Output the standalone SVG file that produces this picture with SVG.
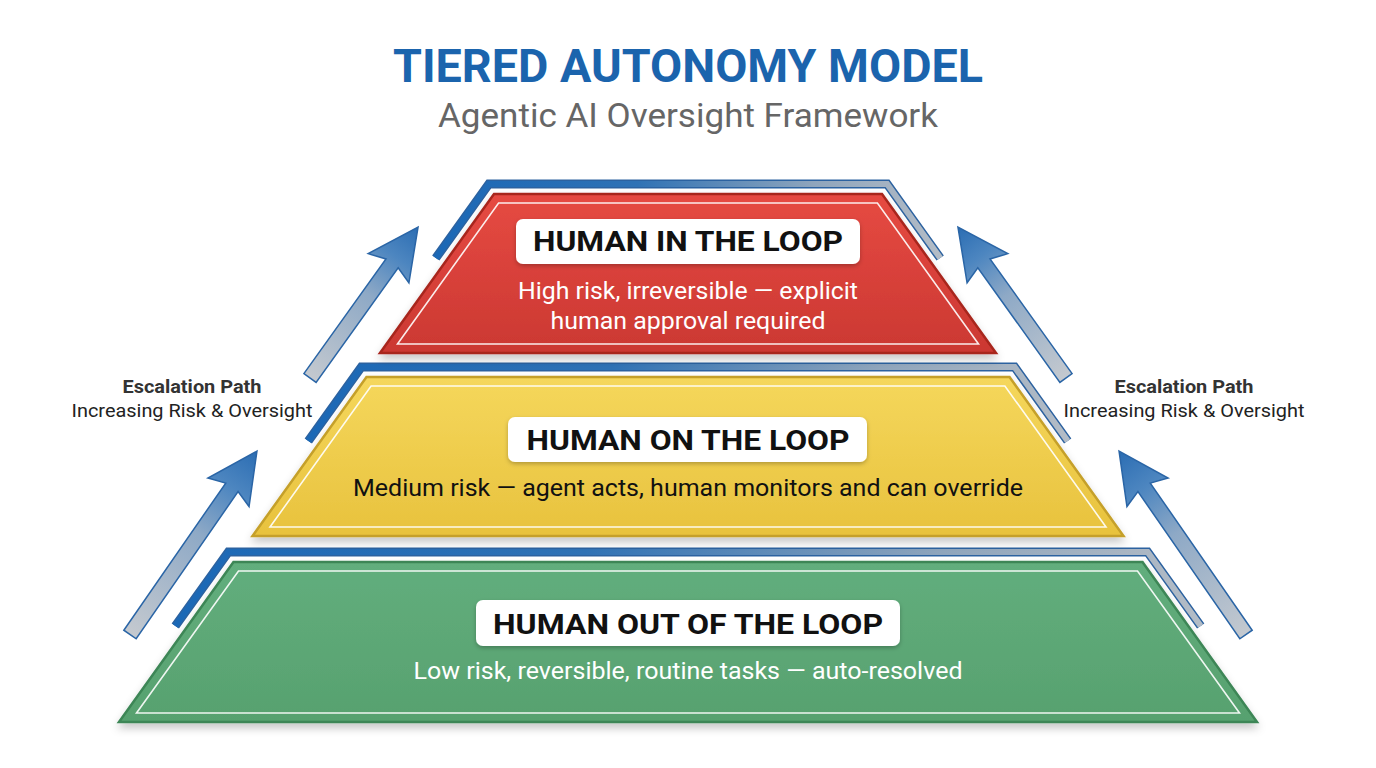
<svg xmlns="http://www.w3.org/2000/svg" width="1376" height="768" viewBox="0 0 1376 768">
<defs>
<style>
.title{font-family:Roboto,"Liberation Sans",sans-serif;font-weight:700;font-size:46px;fill:#1b64ad;text-anchor:middle}
.sub{font-family:Roboto,"Liberation Sans",sans-serif;font-size:33px;fill:#666;text-anchor:middle}
.lbl{font-family:Roboto,"Liberation Sans",sans-serif;font-weight:700;font-size:27px;fill:#111;text-anchor:middle}
.desc{font-family:Roboto,"Liberation Sans",sans-serif;font-size:23px;text-anchor:middle}
.esc1{font-family:Roboto,"Liberation Sans",sans-serif;font-weight:700;font-size:18.5px;fill:#333;text-anchor:middle}
.esc2{font-family:Roboto,"Liberation Sans",sans-serif;font-size:18px;fill:#222;text-anchor:middle}
.inner{fill:none;stroke:#fff;stroke-width:1.6;stroke-opacity:0.9}
.bandO{fill:none;stroke:#2c62a0;stroke-width:9;stroke-linejoin:miter}
.bandI{fill:none;stroke:url(#band);stroke-width:6;stroke-linejoin:miter}
.box{fill:#fff;filter:url(#sh2)}
.arrow{fill:url(#arr);stroke:#2a65a6;stroke-width:1.5;stroke-linejoin:miter}
</style>
<linearGradient id="red" x1="0" y1="0" x2="0" y2="1"><stop offset="0" stop-color="#e64a42"/><stop offset="1" stop-color="#cb3832"/></linearGradient>
<linearGradient id="yel" x1="0" y1="0" x2="0" y2="1"><stop offset="0" stop-color="#f5d75c"/><stop offset="1" stop-color="#e8c23d"/></linearGradient>
<linearGradient id="grn" x1="0" y1="0" x2="0" y2="1"><stop offset="0" stop-color="#62ae7d"/><stop offset="1" stop-color="#57a16f"/></linearGradient>
<linearGradient id="band" x1="0" y1="0" x2="1" y2="0"><stop offset="0" stop-color="#1b68b6"/><stop offset="0.4" stop-color="#2f72b5"/><stop offset="0.75" stop-color="#8fa5bc"/><stop offset="1" stop-color="#b3bcc6"/></linearGradient>
<linearGradient id="arr" x1="0" y1="0" x2="1" y2="0"><stop offset="0" stop-color="#c4c9cf"/><stop offset="0.55" stop-color="#8ea9c6"/><stop offset="0.8" stop-color="#4d86c0"/><stop offset="1" stop-color="#2b6db3"/></linearGradient>
<filter id="sh" x="-10%" y="-10%" width="120%" height="130%"><feDropShadow dx="0" dy="5" stdDeviation="4" flood-color="#000" flood-opacity="0.22"/></filter>
<filter id="sh2" x="-10%" y="-20%" width="120%" height="150%"><feDropShadow dx="0" dy="2" stdDeviation="2" flood-color="#000" flood-opacity="0.25"/></filter>
</defs>
<rect width="1376" height="768" fill="#fff"/>

<g id="title">
<text class="title" x="688" y="82" textLength="590" lengthAdjust="spacingAndGlyphs">TIERED AUTONOMY MODEL</text>
<text class="sub" x="688" y="127" textLength="500" lengthAdjust="spacingAndGlyphs">Agentic AI Oversight Framework</text>
</g>

<g id="tier-green">
<polyline class="bandO" points="175.3,626 228.4,552 1147.6,552 1200.7,626"/>
<polyline class="bandI" points="175.3,626 228.4,552 1147.6,552 1200.7,626"/>
<polygon points="233.5,562 1142.5,562 1257,722 119,722" fill="url(#grn)" stroke="#3d8656" stroke-width="2.5" filter="url(#sh)"/>
<polygon class="inner" points="238.5,571 1137.5,571 1239.5,713 136.5,713"/>
<rect class="box" x="476" y="600" width="424" height="46" rx="7"/>
<text class="lbl" x="688" y="634" textLength="390" lengthAdjust="spacingAndGlyphs">HUMAN OUT OF THE LOOP</text>
<text class="desc" x="688" y="679" fill="#fff" textLength="549" lengthAdjust="spacingAndGlyphs">Low risk, reversible, routine tasks — auto-resolved</text>
</g>

<g id="tier-yellow">
<polyline class="bandO" points="308.3,441 361.4,367 1014.6,367 1067.7,441"/>
<polyline class="bandI" points="308.3,441 361.4,367 1014.6,367 1067.7,441"/>
<polygon points="366.5,377 1009.5,377 1123.5,536 252.5,536" fill="url(#yel)" stroke="#c5a02a" stroke-width="2.5" filter="url(#sh)"/>
<polygon class="inner" points="371.1,386 1004.9,386 1106,527 270,527"/>
<rect class="box" x="508" y="417" width="359" height="45" rx="7"/>
<text class="lbl" x="688" y="450" textLength="323" lengthAdjust="spacingAndGlyphs">HUMAN ON THE LOOP</text>
<text class="desc" x="688" y="496" fill="#111" textLength="670" lengthAdjust="spacingAndGlyphs">Medium risk — agent acts, human monitors and can override</text>
</g>

<g id="tier-red">
<polyline class="bandO" points="435.8,258 488.9,184 887.1,184 940.2,258"/>
<polyline class="bandI" points="435.8,258 488.9,184 887.1,184 940.2,258"/>
<polygon points="494,194 882,194 996,353 380,353" fill="url(#red)" stroke="#a8261f" stroke-width="2.5" filter="url(#sh)"/>
<polygon class="inner" points="498.6,203 877.4,203 978.5,344 397.5,344"/>
<rect class="box" x="516" y="219" width="344" height="45" rx="7"/>
<text class="lbl" x="688" y="251" textLength="310" lengthAdjust="spacingAndGlyphs">HUMAN IN THE LOOP</text>
<text class="desc" x="688" y="299" fill="#fff" textLength="340" lengthAdjust="spacingAndGlyphs">High risk, irreversible — explicit</text>
<text class="desc" x="688" y="329" fill="#fff" textLength="275" lengthAdjust="spacingAndGlyphs">human approval required</text>
</g>

<g id="escalation-left">
<text class="esc1" x="192" y="393" textLength="139" lengthAdjust="spacingAndGlyphs">Escalation Path</text>
<text class="esc2" x="192" y="417" textLength="241" lengthAdjust="spacingAndGlyphs">Increasing Risk &amp; Oversight</text>
</g>
<g id="escalation-right">
<text class="esc1" x="1184" y="393" textLength="139" lengthAdjust="spacingAndGlyphs">Escalation Path</text>
<text class="esc2" x="1184" y="417" textLength="241" lengthAdjust="spacingAndGlyphs">Increasing Risk &amp; Oversight</text>
</g>

<g id="connectors">
<path class="arrow" transform="translate(130,634.5) rotate(-55.3)" d="M0,-7.5 L179,-7.5 L173,-25 L223,0 L173,25 L179,7.5 L0,7.5 Z"/>
<path class="arrow" transform="translate(310,378) rotate(-54.4)" d="M0,-7.5 L141,-7.5 L135,-25 L185.6,0 L135,25 L141,7.5 L0,7.5 Z"/>
<path class="arrow" transform="translate(1066,378) rotate(-125.6) scale(1,-1)" d="M0,-7.5 L141,-7.5 L135,-25 L185.6,0 L135,25 L141,7.5 L0,7.5 Z"/>
<path class="arrow" transform="translate(1246,634.5) rotate(-124.7) scale(1,-1)" d="M0,-7.5 L179,-7.5 L173,-25 L223,0 L173,25 L179,7.5 L0,7.5 Z"/>
</g>
</svg>
